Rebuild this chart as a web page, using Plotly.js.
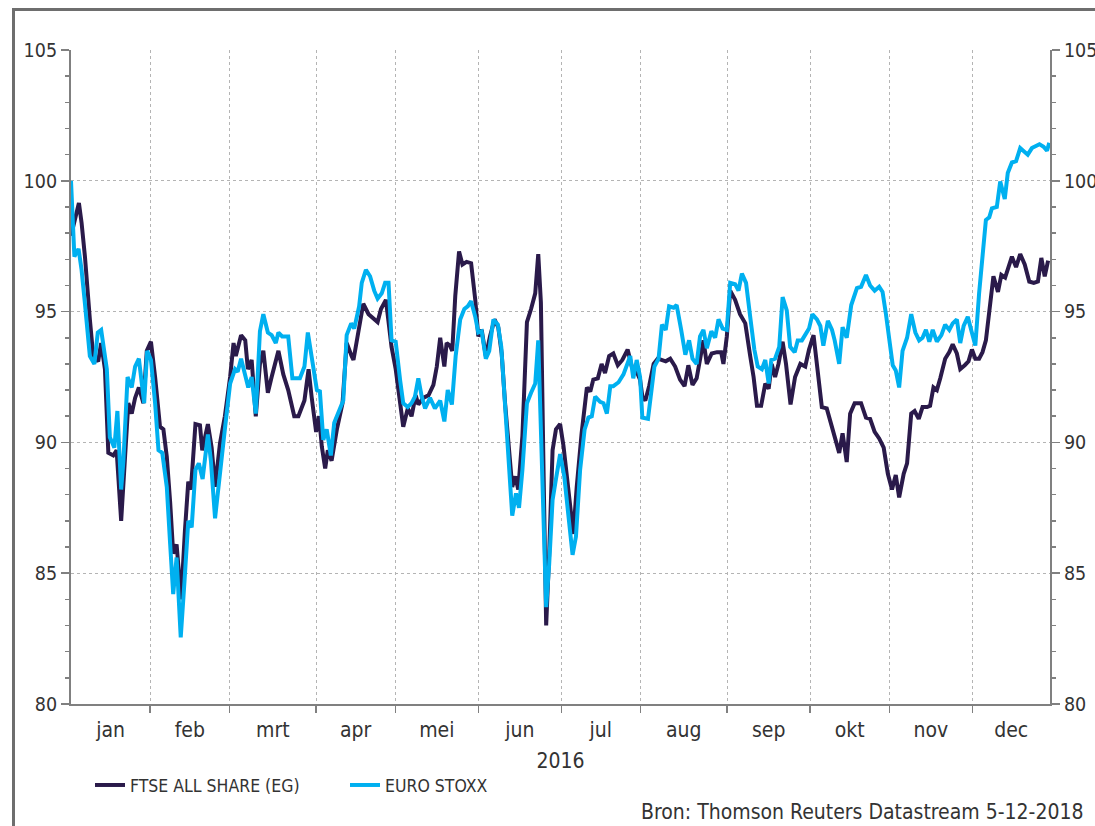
<!DOCTYPE html>
<html>
<head>
<meta charset="utf-8">
<script src="https://cdn.plot.ly/plotly-3.0.1.min.js"></script>
<style>
  html, body { margin: 0; padding: 0; background: #ffffff; }
  #chart { width: 1095px; height: 826px; position: relative; }
  #frame { position: absolute; left: 12px; top: 8px; width: 1100px; height: 840px;
           border: 3px solid #6e6e6e; box-sizing: border-box; pointer-events: none; }
</style>
</head>
<body>
<div id="chart"></div>
<div id="frame"></div>
<script>
// x = trading-day (weekday) index within 2016, y = index level
const ftseX = [0,2.1,2.8,3.7,5.0,5.9,7.2,8.0,9.0,9.9,11.2,12.1,13.3,14.3,15.2,16.1,17.0,18.0,19.2,20.1,21.2,22.3,23.6,24.5,25.4,26.3,27.1,28.0,29.2,30.2,31.1,31.8,33.0,34.2,34.8,36.3,37.3,38.2,39.5,40.8,42.2,43.1,43.7,45.1,46.2,46.9,47.9,49.0,50.1,51.0,52.2,53.2,55.0,56.3,57.6,59.2,60.3,61.9,63.0,63.8,65.0,65.8,66.5,67.4,68.1,69.1,70.5,72.0,73.1,74.4,74.9,77.5,78.9,81.3,82.2,83.5,85.0,86.1,87.3,88.1,89.3,90.3,91.4,92.1,93.4,94.8,96.1,97.0,97.9,99.0,99.6,100.5,101.1,101.9,102.9,103.8,104.9,106.1,107.2,108.0,108.9,110.0,111.1,112.3,113.3,114.2,115.1,116.2,117.0,117.8,118.6,119.7,120.9,122.0,123.1,123.9,124.6,125.3,126.0,126.8,127.7,128.6,129.7,130.6,131.9,133.2,134.1,135.4,136.8,137.7,138.5,139.7,140.7,141.6,142.7,143.8,145.0,146.2,147.6,148.7,150.0,150.9,151.5,152.3,153.3,154.5,155.6,156.8,157.7,158.9,160.2,161.5,162.7,163.7,164.8,165.9,167.1,167.7,168.6,169.9,171.3,172.4,173.0,173.9,174.8,176.1,177.4,178.8,180.1,181.0,181.9,183.0,184.1,185.0,185.8,186.7,187.6,188.7,189.6,190.8,192.0,193.4,194.7,195.7,196.9,198.0,199.1,200.4,201.8,202.6,203.7,204.6,205.7,206.6,207.8,209.5,210.8,211.9,213.1,214.3,215.5,216.6,217.7,218.7,219.6,220.8,221.7,222.8,223.7,224.8,225.8,227.0,227.8,228.7,229.6,230.5,231.8,232.9,233.8,234.9,235.8,237.0,238.0,238.9,239.8,240.8,241.7,242.6,243.5,244.6,245.8,246.7,247.7,248.6,249.5,250.6,251.7,252.9,254.1,255.3,256.4,257.3,258.2,259.1];
const ftseY = [97.9,99.15,98.4,97.1,94.7,93.3,93.1,93.8,92.8,89.6,89.5,89.7,87.0,89.2,91.5,91.1,91.7,92.1,91.5,93.5,93.85,92.5,90.6,90.5,89.45,87.7,85.75,86.1,84.0,86.6,88.5,88.2,90.7,90.65,89.7,90.7,89.8,88.3,89.96,91.0,92.5,93.8,93.3,94.1,93.9,92.8,93.15,91.0,93.0,93.5,91.9,92.5,93.5,92.6,92.0,91.0,91.0,91.6,92.8,91.75,90.4,91.0,89.85,89.0,89.7,89.3,90.5,91.5,93.8,93.3,93.15,95.3,94.9,94.6,95.1,95.45,93.65,92.8,91.5,90.6,91.3,91.0,91.8,91.45,91.7,91.8,92.2,92.9,94.0,92.9,93.8,93.7,93.5,95.6,97.3,96.8,96.9,96.85,95.45,94.05,94.3,93.3,94.05,94.7,94.4,93.4,91.5,89.6,88.3,88.7,88.2,90.25,94.6,95.1,95.7,97.2,95.35,88.95,83.0,85.75,89.7,90.5,90.7,89.85,88.3,86.5,88.3,90.35,92.1,91.95,92.4,92.45,93.0,92.65,93.3,93.4,92.95,93.15,93.55,92.9,92.7,92.4,91.75,91.6,92.15,93.0,93.2,93.15,93.1,93.2,92.9,92.4,92.15,92.95,92.2,92.45,93.55,93.9,93.0,93.4,93.45,93.45,93.0,94.05,95.8,95.45,94.9,94.55,93.3,92.5,91.4,91.4,92.25,92.05,93.0,92.5,93.0,93.85,93.0,91.45,92.5,93.0,92.9,93.55,94.1,92.8,91.35,91.3,90.6,90.1,89.6,90.35,89.25,91.1,91.5,91.5,90.95,90.9,90.4,90.15,89.8,88.8,88.2,88.75,87.9,88.8,89.2,91.1,91.2,90.9,91.35,91.35,91.4,92.1,92.0,92.45,93.2,93.45,93.75,93.4,92.8,92.95,93.1,93.55,93.2,93.2,93.45,93.9,94.9,96.35,95.75,96.4,96.3,96.7,97.1,96.7,97.2,96.8,96.15,96.1,96.15,97.05,96.35,96.95];

const euroX = [0,0.9,2.0,2.8,3.7,5.0,6.2,7.1,8.0,9.5,10.3,11.5,12.3,13.3,13.9,15.0,16.1,17.0,18.0,19.4,20.2,21.2,22.3,23.2,24.2,25.4,26.3,27.1,28.0,29.1,30.1,31.1,32.0,33.0,33.9,34.9,36.3,37.1,38.2,39.5,40.8,42.2,43.5,44.2,45.1,47.0,47.9,49.0,50.1,51.0,52.2,53.2,54.3,55.0,56.0,57.6,58.7,60.7,61.9,62.8,63.6,65.2,66.0,66.9,67.8,68.9,69.8,71.3,72.2,73.1,74.3,75.1,76.4,77.1,78.2,79.3,80.4,81.3,82.4,83.3,84.2,85.0,86.1,87.3,88.1,89.3,90.3,91.2,92.1,93.0,93.9,95.2,96.5,97.9,99.0,99.9,101.0,102.0,103.2,104.3,105.2,106.1,107.2,108.0,108.9,110.0,110.9,112.0,113.2,114.1,115.1,116.2,117.0,118.0,118.8,119.7,120.9,122.0,123.1,123.9,124.8,126.0,126.8,127.7,128.6,129.7,130.8,131.9,133.0,133.9,135.0,136.2,137.2,138.1,139.0,140.3,141.2,142.1,143.0,143.8,145.2,146.5,147.6,148.3,149.1,150.0,150.9,151.5,153.0,153.8,154.7,155.8,156.7,157.7,158.6,159.8,160.6,161.8,162.9,163.9,164.8,165.9,166.8,167.7,168.6,169.8,170.8,171.7,172.8,173.9,174.8,176.1,177.0,177.9,179.0,180.1,181.2,182.1,183.2,184.1,185.0,185.7,186.7,187.8,188.7,189.8,190.7,191.9,192.7,193.8,194.7,195.7,196.6,197.8,198.7,199.5,200.7,201.8,202.5,203.7,204.6,205.7,206.9,208.4,209.5,210.8,211.9,213.1,214.3,215.2,216.1,217.0,217.9,218.7,219.6,220.5,221.7,222.8,223.9,224.9,225.8,226.7,227.6,228.5,229.6,230.8,231.8,232.9,233.8,234.9,235.8,236.7,237.8,238.7,239.8,240.8,241.7,242.6,243.5,244.2,245.5,246.4,247.6,248.4,249.5,250.6,251.7,252.9,253.7,254.8,255.7,256.8,257.9,258.8,259.4];
const euroY = [100,97.1,97.4,96.6,95.3,93.3,93.0,94.2,94.3,92.8,90.2,89.8,91.2,88.2,89.3,92.5,92.1,92.9,93.2,91.5,93.5,93.15,91.5,89.7,89.6,88.3,86.1,84.2,85.6,82.55,84.7,87.0,86.75,88.95,89.2,88.6,90.3,89.3,87.1,88.95,90.5,92.25,92.8,92.7,93.2,92.1,92.5,91.1,94.25,94.9,94.2,94.1,93.8,94.2,94.05,94.05,92.45,92.45,92.9,94.2,93.5,92.0,91.95,90.1,90.5,89.5,90.75,91.25,91.6,94.1,94.55,94.35,95.2,96.1,96.6,96.35,95.8,95.5,95.7,96.1,96.1,93.9,93.85,92.35,91.5,91.35,91.5,91.75,92.45,91.75,91.3,91.7,91.3,91.6,90.8,92.0,91.45,93.3,94.7,95.1,95.2,95.4,94.8,94.2,94.25,93.2,93.5,94.7,94.5,93.65,91.5,89.1,87.2,88.05,87.5,88.95,91.5,91.9,92.25,93.9,88.95,83.7,85.35,87.8,88.6,89.55,88.7,87.3,85.7,86.4,88.95,90.5,90.95,91.0,91.75,91.55,91.5,91.1,92.15,92.15,92.3,92.6,93.0,93.3,92.45,93.15,92.5,90.95,90.9,91.75,92.9,93.2,94.5,94.3,95.2,95.15,95.25,94.3,93.35,93.9,93.2,93.0,94.05,94.3,93.6,94.25,94.0,94.7,94.35,94.3,96.1,96.05,95.8,96.45,96.1,94.8,93.55,92.9,92.8,93.15,92.25,93.15,93.2,93.65,95.55,95.05,93.65,93.45,93.9,93.9,94.15,94.35,94.9,94.7,94.45,93.7,94.65,94.3,93.9,93.0,94.4,94.0,95.25,95.9,95.95,96.4,96.0,95.8,95.95,95.75,94.9,93.9,92.95,92.75,92.1,93.5,94.0,94.9,94.2,93.9,94.0,94.3,93.85,94.3,93.85,94.1,94.5,94.3,94.55,94.7,93.8,94.45,94.8,94.3,93.7,95.7,97.2,98.5,98.6,98.95,99.0,99.97,99.3,100.3,100.7,100.75,101.25,101.1,101.0,101.25,101.3,101.4,101.3,101.15,101.45];

const monthLabels = ['jan','feb','mrt','apr','mei','jun','jul','aug','sep','okt','nov','dec'];
const monthStarts = [0,21,42,65,86,108,130,151,174,196,217,239];
const axisEnd = 259.6;
const yTicks = [80,85,90,95,100,105];
const seriesNames = ['FTSE ALL SHARE (EG)','EURO STOXX'];
const sourceText = 'Bron: Thomson Reuters Datastream 5-12-2018';
const yearLabel = '2016';

const FONT = "'DejaVu Sans Condensed', 'Noto Sans', Tahoma, sans-serif";
const TXT = '#333333';
const AX = '#808080';
const GRID = '#b4b4b4';

const monthCenters = monthStarts.map((s, i) => (s + (i < monthStarts.length - 1 ? monthStarts[i + 1] : axisEnd)) / 2);

const traces = [
  { x: ftseX, y: ftseY, name: seriesNames[0], type: 'scatter', mode: 'lines',
    line: { color: '#2a1a4a', width: 4 }, xaxis: 'x', yaxis: 'y' },
  { x: euroX, y: euroY, name: seriesNames[1], type: 'scatter', mode: 'lines',
    line: { color: '#00b0f0', width: 4 }, xaxis: 'x', yaxis: 'y2' }
];

const yCommon = {
  range: [80, 105], tickmode: 'array', tickvals: yTicks,
  ticks: 'outside', ticklen: 8, tickwidth: 1.5, tickcolor: AX,
  showline: true, linecolor: AX, linewidth: 2, zeroline: false,
  tickfont: { family: FONT, size: 19.5, color: TXT },
  minor: { dtick: 1, ticks: 'outside', ticklen: 4, tickwidth: 1.5, tickcolor: AX, showgrid: false },
  fixedrange: true
};

const layout = {
  width: 1095, height: 826,
  margin: { l: 71, r: 45, t: 50, b: 122 },
  paper_bgcolor: '#ffffff', plot_bgcolor: '#ffffff',
  font: { family: FONT, size: 20, color: TXT },
  showlegend: true,
  xaxis: {
    range: [0, axisEnd], tickmode: 'array', tickvals: monthCenters, ticktext: monthLabels,
    ticks: '', showgrid: false, zeroline: false,
    showline: true, linecolor: AX, linewidth: 2,
    tickfont: { family: FONT, size: 21, color: TXT },
    ticklabelstandoff: 6,
    minor: { tickmode: 'array', tickvals: monthStarts.slice(1), ticks: 'outside', ticklen: 7,
             tickwidth: 1.5, tickcolor: AX, showgrid: true, gridcolor: GRID, griddash: 'dot', gridwidth: 1 },
    title: { text: yearLabel, font: { family: FONT, size: 21, color: TXT }, standoff: 12 },
    fixedrange: true
  },
  yaxis: Object.assign({}, yCommon, { side: 'left', showgrid: true, gridcolor: GRID, griddash: 'dot', gridwidth: 1 }),
  yaxis2: Object.assign({}, yCommon, { side: 'right', overlaying: 'y', showgrid: false }),
  legend: {
    orientation: 'h', x: 0.0194, y: -0.124, xanchor: 'left', yanchor: 'middle',
    font: { family: FONT, size: 17.5, color: TXT },
    entrywidth: 210, entrywidthmode: 'pixels', bgcolor: 'rgba(0,0,0,0)'
  },
  annotations: [
    { text: sourceText, xref: 'paper', yref: 'paper', x: 1.0357, y: -0.165,
      xanchor: 'right', yanchor: 'middle', showarrow: false,
      font: { family: FONT, size: 21, color: TXT } }
  ]
};

Plotly.newPlot('chart', traces, layout, { staticPlot: true, displayModeBar: false });
</script>
</body>
</html>
